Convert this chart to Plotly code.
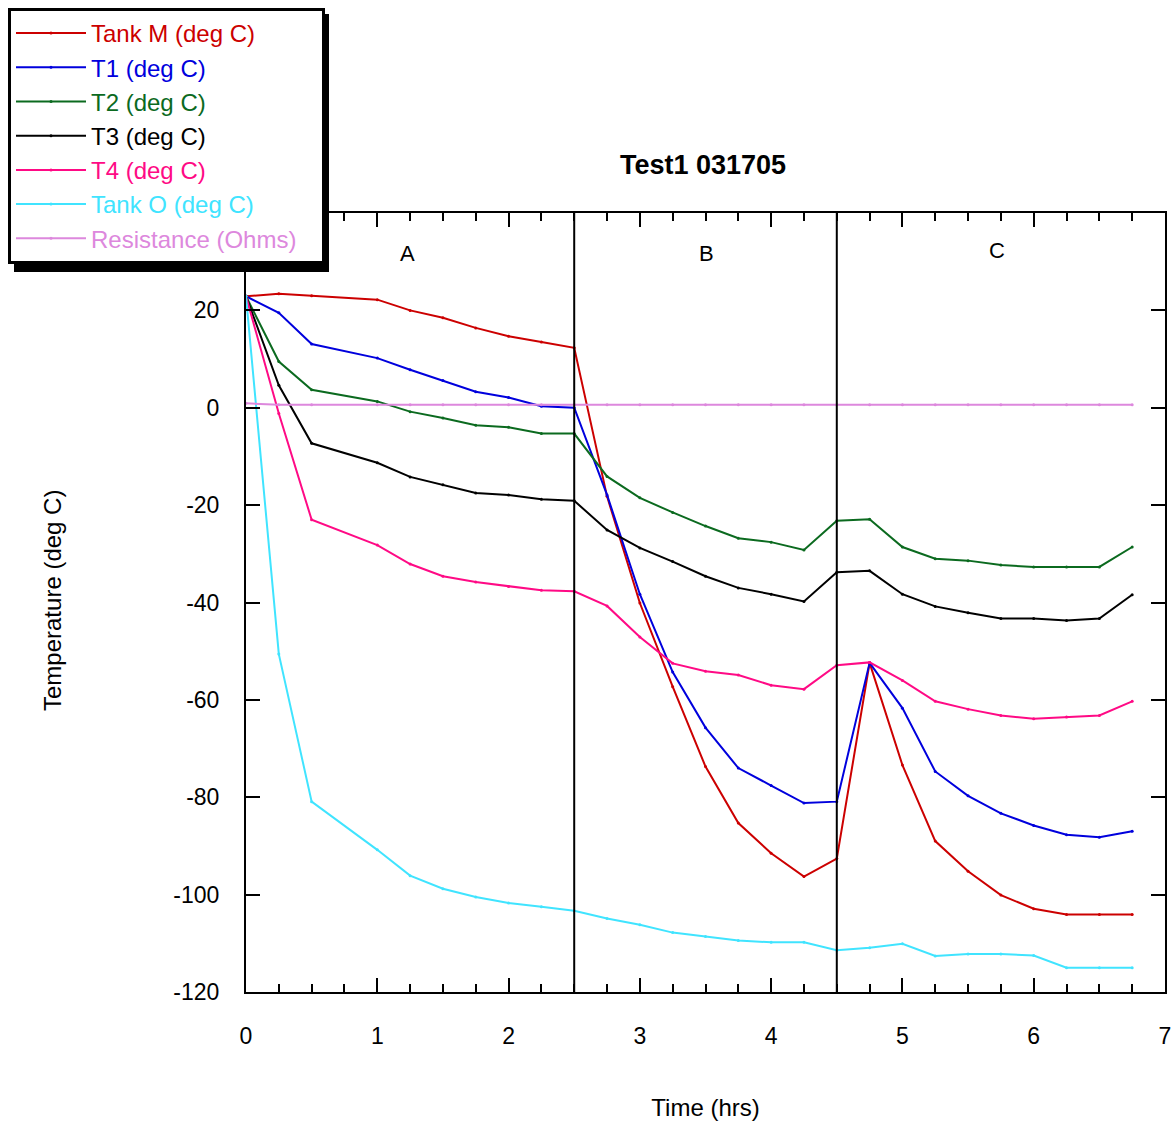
import plotly.graph_objects as go

time_hrs = [0, 0.25, 0.5, 1.0, 1.25, 1.5, 1.75, 2.0, 2.25, 2.5, 2.75, 3.0, 3.25, 3.5,
            3.75, 4.0, 4.25, 4.5, 4.75, 5.0, 5.25, 5.5, 5.75, 6.0, 6.25, 6.5, 6.75]

tank_m = [22.9, 23.4, 23.0, 22.2, 20.0, 18.5, 16.4, 14.7, 13.5, 12.3, -18.2, -40.1, -57.3, -73.7,
          -85.3, -91.5, -96.3, -92.6, -52.4, -73.4, -89.0, -95.2, -100.1, -102.9, -104.1, -104.1, -104.1]
t1 = [22.9, 19.5, 13.1, 10.2, 7.8, 5.6, 3.3, 2.1, 0.3, 0.0, -17.9, -38.3, -54.3, -65.7,
      -74.0, -77.6, -81.2, -80.9, -52.4, -61.7, -74.7, -79.7, -83.3, -85.8, -87.7, -88.2, -87.0]
t2 = [22.9, 9.5, 3.7, 1.3, -0.8, -2.1, -3.6, -4.0, -5.3, -5.3, -14.1, -18.5, -21.5, -24.3,
      -26.8, -27.6, -29.2, -23.2, -22.9, -28.6, -31.0, -31.4, -32.3, -32.7, -32.7, -32.7, -28.6]
t3 = [22.9, 4.6, -7.3, -11.3, -14.2, -15.8, -17.5, -17.9, -18.8, -19.1, -25.1, -28.8, -31.6, -34.6,
      -37.0, -38.3, -39.8, -33.8, -33.5, -38.3, -40.8, -42.1, -43.3, -43.3, -43.7, -43.3, -38.4]
t4 = [22.9, -1.2, -23.0, -28.2, -32.1, -34.6, -35.8, -36.7, -37.5, -37.7, -40.7, -47.1, -52.5, -54.1,
      -54.9, -57.0, -57.8, -52.9, -52.3, -56.0, -60.3, -61.9, -63.2, -63.9, -63.5, -63.2, -60.3]
tank_o = [22.9, -50.6, -80.9, -90.8, -96.1, -98.8, -100.5, -101.7, -102.5, -103.3, -104.9, -106.2, -107.8, -108.6,
          -109.4, -109.8, -109.8, -111.4, -110.9, -110.1, -112.6, -112.2, -112.2, -112.5, -115.0, -115.0, -115.0]
resistance = [0.9, 0.6, 0.6, 0.6, 0.6, 0.6, 0.6, 0.6, 0.6, 0.6, 0.6, 0.6, 0.6, 0.6,
              0.6, 0.6, 0.6, 0.6, 0.6, 0.6, 0.6, 0.6, 0.6, 0.6, 0.6, 0.6, 0.6]

series_names = ["Tank M (deg C)", "T1 (deg C)", "T2 (deg C)", "T3 (deg C)",
                "T4 (deg C)", "Tank O (deg C)", "Resistance (Ohms)"]
series_values = [tank_m, t1, t2, t3, t4, tank_o, resistance]
series_colors = ["#cc0000", "#0000dd", "#0b6a1f", "#000000", "#ff0a85", "#40e4ff", "#dd88dd"]

phase_labels = ["A", "B", "C"]
phase_label_x = [1.23, 3.51, 5.72]
phase_label_y = [31.7, 31.7, 32.2]
phase_bounds = [2.5, 4.5]

x_ticks = [0, 1, 2, 3, 4, 5, 6, 7]
x_ticktext = ["0", "1", "2", "3", "4", "5", "6", "7"]
y_ticks = [-120, -100, -80, -60, -40, -20, 0, 20, 40]
y_ticktext = ["-120", "-100", "-80", "-60", "-40", "-20", "0", "20", ""]

FONT = "Liberation Sans, Arial, sans-serif"
PAD = "&nbsp;" * 3

fig = go.Figure()
for i, (name, vals, col) in enumerate(zip(series_names, series_values, series_colors)):
    fig.add_trace(go.Scatter(
        x=time_hrs, y=vals, mode="lines+markers",
        name=f'<span style="color:{col}">{name}</span>{PAD}',
        legendgroup=f"g{i}",
        line=dict(color=col, width=2),
        marker=dict(color=col, size=3, symbol="circle"),
    ))

for xb in phase_bounds:
    fig.add_shape(type="line", xref="x", yref="paper", x0=xb, x1=xb, y0=0, y1=1,
                  line=dict(color="black", width=2))

for lab, lx, ly in zip(phase_labels, phase_label_x, phase_label_y):
    fig.add_annotation(x=lx, y=ly, xref="x", yref="y", text=lab, showarrow=False,
                       font=dict(family=FONT, size=22, color="black"))

# y axis title
fig.add_annotation(xref="paper", yref="paper", x=(52 - 246) / 919, y=(992 - 601) / 779,
                   text="Temperature (deg C)", textangle=-90, showarrow=False,
                   xanchor="center", yanchor="middle",
                   font=dict(family=FONT, size=24, color="black"))

# legend shadow
fig.add_shape(type="rect", xref="paper", yref="paper",
              x0=(14 - 246) / 919, x1=(329 - 246) / 919,
              y0=(992 - 272) / 779, y1=(992 - 14) / 779,
              fillcolor="black", line=dict(width=0), layer="above")

fig.update_layout(
    width=1176, height=1124,
    margin=dict(l=246, r=11, t=213, b=132, autoexpand=False),
    paper_bgcolor="white", plot_bgcolor="white",
    font=dict(family=FONT, size=23, color="black"),
    title=dict(text="<b>Test1 031705</b>", x=703 / 1176, xanchor="center",
               y=1 - 165 / 1124, yanchor="middle", xref="container", yref="container",
               font=dict(family=FONT, size=27, color="black")),
    showlegend=True,
    legend=dict(xref="container", yref="container", x=8 / 1176, y=1 - 8 / 1124,
                xanchor="left", yanchor="top", bgcolor="white",
                bordercolor="black", borderwidth=3,
                font=dict(family=FONT, size=24),
                itemwidth=70, tracegroupgap=6, traceorder="normal"),
    xaxis=dict(range=[0, 7], tickvals=x_ticks, ticktext=x_ticktext, ticks="inside", ticklen=14, tickwidth=2,
               tickcolor="black", showline=True, linecolor="black", linewidth=2,
               mirror="allticks", showgrid=False, zeroline=False,
               ticklabelstandoff=22, tickfont=dict(family=FONT, size=23),
               minor=dict(dtick=0.25, ticks="inside", ticklen=8, tickwidth=1.5, tickcolor="black",
                          showgrid=False),
               title=dict(text="Time (hrs)", standoff=52,
                          font=dict(family=FONT, size=24))),
    yaxis=dict(range=[-120, 40], tickvals=y_ticks, ticktext=y_ticktext, ticks="inside", ticklen=14, tickwidth=2,
               tickcolor="black", showline=True, linecolor="black", linewidth=2,
               mirror="allticks", showgrid=False, zeroline=False,
               ticklabelstandoff=20, tickfont=dict(family=FONT, size=23)),
)

fig.write_html("out.html")
